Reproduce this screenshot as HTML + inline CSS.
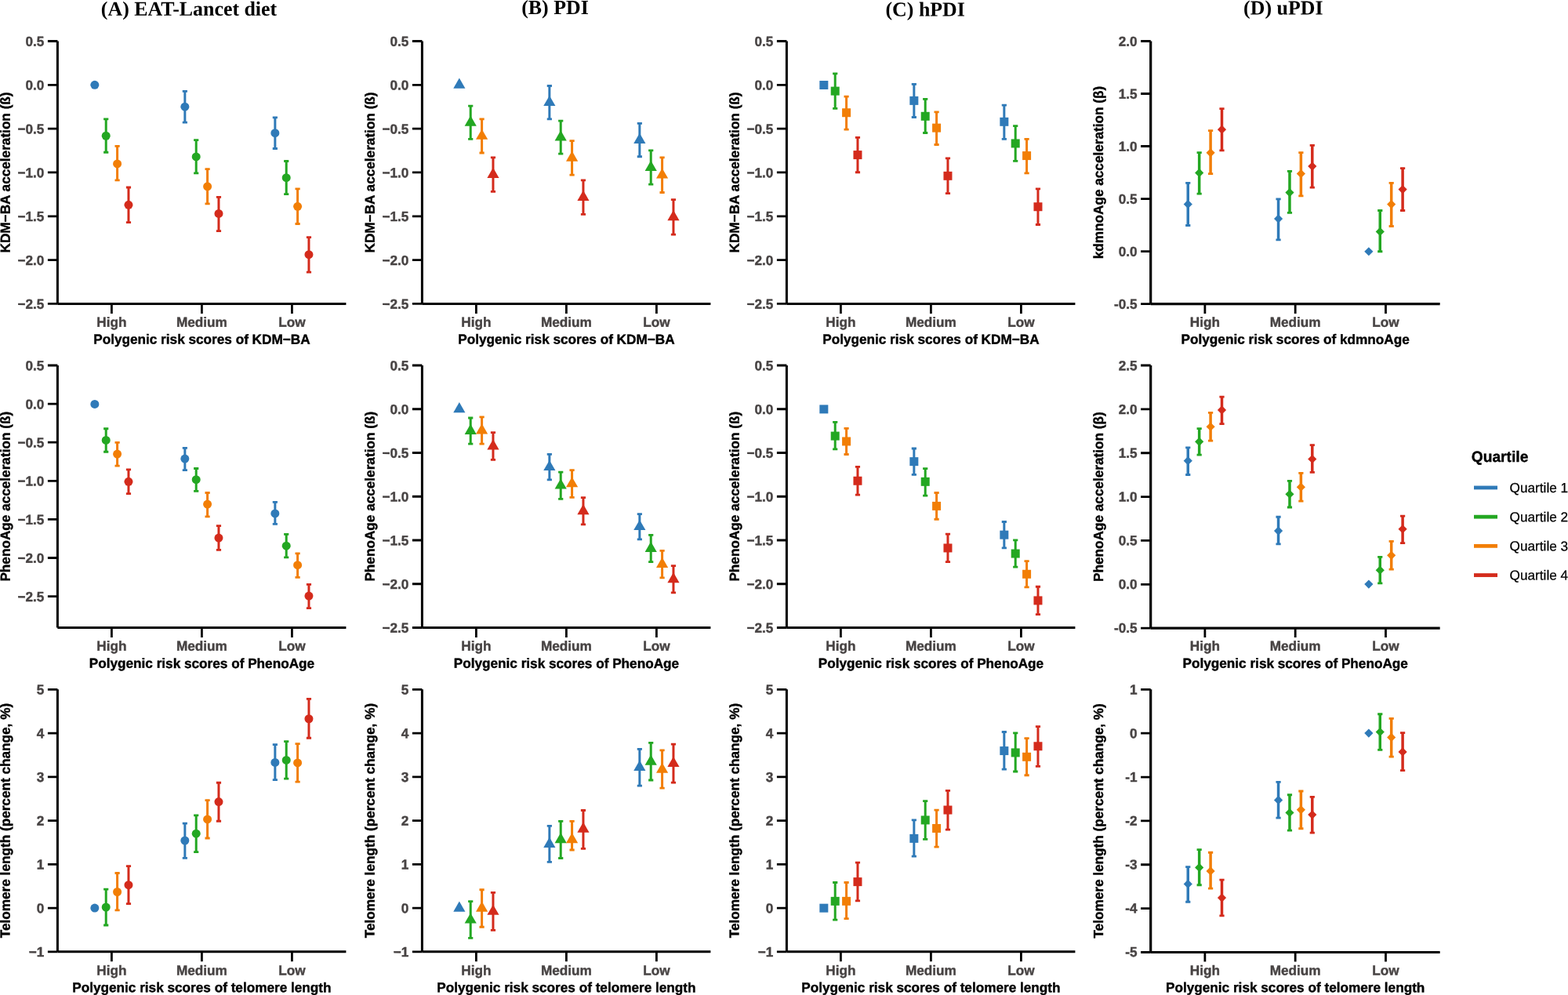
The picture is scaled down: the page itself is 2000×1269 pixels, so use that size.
<!DOCTYPE html>
<html lang="en"><head><meta charset="utf-8"><title>Diet quartiles, polygenic risk and biological ageing</title>
<style>
html,body{margin:0;padding:0;background:#fff}
body{width:2000px;height:1269px;overflow:hidden}
svg{display:block}
text{font-family:"Liberation Sans",Arial,Helvetica,sans-serif}
.tk{font-weight:bold;font-size:17.2px;fill:#474343;stroke:#474343;stroke-width:0.4}
.at{font-weight:bold;font-size:17.2px;fill:#000;stroke:#000;stroke-width:0.4}
.mt{font-family:"Liberation Serif","Times New Roman",serif;font-weight:bold;font-size:25.9px;fill:#000}
.lt{font-weight:bold;font-size:19.2px;fill:#000;stroke:#000;stroke-width:0.4}
.ll{font-size:17.2px;fill:#000;stroke:#000;stroke-width:0.25}
.ax{stroke:#000;fill:none}
</style></head><body>
<svg width="2000" height="1269" viewBox="0 0 2000 1269">
<rect width="2000" height="1269" fill="#fff"/>
<text class="mt" transform="translate(241 19.8) rotate(0.03)" text-anchor="middle">(A) EAT-Lancet diet</text>
<text class="mt" transform="translate(708 18) rotate(0.03)" text-anchor="middle">(B) PDI</text>
<text class="mt" transform="translate(1180.2 20.4) rotate(0.03)" text-anchor="middle">(C) hPDI</text>
<text class="mt" transform="translate(1636.8 18.5) rotate(0.03)" text-anchor="middle">(D) uPDI</text>
<g>
<path class="ax" stroke-width="3.0" d="M73.4 52.5V387.45M73.4 387.45H441.4"/>
<path class="ax" stroke-width="2.8" d="M60.9 52.5H73.4M60.9 108.32H73.4M60.9 164.15H73.4M60.9 219.97H73.4M60.9 275.8H73.4M60.9 331.62H73.4M60.9 387.45H73.4M142.4 387.45V399.95M257.4 387.45V399.95M372.4 387.45V399.95"/>
<text class="tk" transform="translate(56.3 58.8) rotate(0.03) scale(1 1.01)" text-anchor="end">0.5</text>
<text class="tk" transform="translate(56.3 114.62) rotate(0.03) scale(1 1.01)" text-anchor="end">0.0</text>
<text class="tk" transform="translate(56.3 170.45) rotate(0.03) scale(1 1.01)" text-anchor="end">−0.5</text>
<text class="tk" transform="translate(56.3 226.28) rotate(0.03) scale(1 1.01)" text-anchor="end">−1.0</text>
<text class="tk" transform="translate(56.3 282.1) rotate(0.03) scale(1 1.01)" text-anchor="end">−1.5</text>
<text class="tk" transform="translate(56.3 337.93) rotate(0.03) scale(1 1.01)" text-anchor="end">−2.0</text>
<text class="tk" transform="translate(56.3 393.75) rotate(0.03) scale(1 1.01)" text-anchor="end">−2.5</text>
<text class="tk" transform="translate(142.4 416.8) rotate(0.03) scale(1 1.01)" text-anchor="middle">High</text>
<text class="tk" transform="translate(257.4 416.8) rotate(0.03) scale(1 1.01)" text-anchor="middle">Medium</text>
<text class="tk" transform="translate(372.4 416.8) rotate(0.03) scale(1 1.01)" text-anchor="middle">Low</text>
<text class="at" transform="translate(257.4 438.6) rotate(0.03) scale(1 1.01)" text-anchor="middle">Polygenic risk scores of KDM−BA</text>
<text class="at" transform="translate(12.7 219.97) rotate(-89.97) scale(1 1.01)" text-anchor="middle">KDM−BA acceleration (ß)</text>
<circle cx="120.84" cy="108.3" r="5.5" fill="#2f7ab8"/>
<path stroke="#23a722" stroke-width="3.0" fill="none" d="M135.21 151.86V194.23"/>
<path stroke="#23a722" stroke-width="2.8" fill="none" d="M132.11 151.86H138.31M132.11 194.23H138.31"/>
<circle cx="135.21" cy="173.24" r="5.5" fill="#23a722"/>
<path stroke="#f27e05" stroke-width="3.0" fill="none" d="M149.59 186.31V229.87"/>
<path stroke="#f27e05" stroke-width="2.8" fill="none" d="M146.49 186.31H152.69M146.49 229.87H152.69"/>
<circle cx="149.59" cy="208.88" r="5.5" fill="#f27e05"/>
<path stroke="#d42b1c" stroke-width="3.0" fill="none" d="M163.96 238.98V283.53"/>
<path stroke="#d42b1c" stroke-width="2.8" fill="none" d="M160.86 238.98H167.06M160.86 283.53H167.06"/>
<circle cx="163.96" cy="261.35" r="5.5" fill="#d42b1c"/>
<path stroke="#2f7ab8" stroke-width="3.0" fill="none" d="M235.84 116.41V156.21"/>
<path stroke="#2f7ab8" stroke-width="2.8" fill="none" d="M232.74 116.41H238.94M232.74 156.21H238.94"/>
<circle cx="235.84" cy="136.21" r="5.5" fill="#2f7ab8"/>
<path stroke="#23a722" stroke-width="3.0" fill="none" d="M250.21 178.59V220.96"/>
<path stroke="#23a722" stroke-width="2.8" fill="none" d="M247.11 178.59H253.31M247.11 220.96H253.31"/>
<circle cx="250.21" cy="199.97" r="5.5" fill="#23a722"/>
<path stroke="#f27e05" stroke-width="3.0" fill="none" d="M264.59 215.61V259.96"/>
<path stroke="#f27e05" stroke-width="2.8" fill="none" d="M261.49 215.61H267.69M261.49 259.96H267.69"/>
<circle cx="264.59" cy="237.79" r="5.5" fill="#f27e05"/>
<path stroke="#d42b1c" stroke-width="3.0" fill="none" d="M278.96 251.45V294.61"/>
<path stroke="#d42b1c" stroke-width="2.8" fill="none" d="M275.86 251.45H282.06M275.86 294.61H282.06"/>
<circle cx="278.96" cy="272.44" r="5.5" fill="#d42b1c"/>
<path stroke="#2f7ab8" stroke-width="3.0" fill="none" d="M350.84 149.88V189.48"/>
<path stroke="#2f7ab8" stroke-width="2.8" fill="none" d="M347.74 149.88H353.94M347.74 189.48H353.94"/>
<circle cx="350.84" cy="169.68" r="5.5" fill="#2f7ab8"/>
<path stroke="#23a722" stroke-width="3.0" fill="none" d="M365.21 205.51V247.69"/>
<path stroke="#23a722" stroke-width="2.8" fill="none" d="M362.11 205.51H368.31M362.11 247.69H368.31"/>
<circle cx="365.21" cy="226.7" r="5.5" fill="#23a722"/>
<path stroke="#f27e05" stroke-width="3.0" fill="none" d="M379.59 240.96V285.51"/>
<path stroke="#f27e05" stroke-width="2.8" fill="none" d="M376.49 240.96H382.69M376.49 285.51H382.69"/>
<circle cx="379.59" cy="263.33" r="5.5" fill="#f27e05"/>
<path stroke="#d42b1c" stroke-width="3.0" fill="none" d="M393.96 302.53V347.08"/>
<path stroke="#d42b1c" stroke-width="2.8" fill="none" d="M390.86 302.53H397.06M390.86 347.08H397.06"/>
<circle cx="393.96" cy="324.71" r="5.5" fill="#d42b1c"/>
</g>
<g>
<path class="ax" stroke-width="3.0" d="M538.4 52.5V387.45M538.4 387.45H906.4"/>
<path class="ax" stroke-width="2.8" d="M525.9 52.5H538.4M525.9 108.32H538.4M525.9 164.15H538.4M525.9 219.97H538.4M525.9 275.8H538.4M525.9 331.62H538.4M525.9 387.45H538.4M607.4 387.45V399.95M722.4 387.45V399.95M837.4 387.45V399.95"/>
<text class="tk" transform="translate(521.3 58.8) rotate(0.03) scale(1 1.01)" text-anchor="end">0.5</text>
<text class="tk" transform="translate(521.3 114.62) rotate(0.03) scale(1 1.01)" text-anchor="end">0.0</text>
<text class="tk" transform="translate(521.3 170.45) rotate(0.03) scale(1 1.01)" text-anchor="end">−0.5</text>
<text class="tk" transform="translate(521.3 226.28) rotate(0.03) scale(1 1.01)" text-anchor="end">−1.0</text>
<text class="tk" transform="translate(521.3 282.1) rotate(0.03) scale(1 1.01)" text-anchor="end">−1.5</text>
<text class="tk" transform="translate(521.3 337.93) rotate(0.03) scale(1 1.01)" text-anchor="end">−2.0</text>
<text class="tk" transform="translate(521.3 393.75) rotate(0.03) scale(1 1.01)" text-anchor="end">−2.5</text>
<text class="tk" transform="translate(607.4 416.8) rotate(0.03) scale(1 1.01)" text-anchor="middle">High</text>
<text class="tk" transform="translate(722.4 416.8) rotate(0.03) scale(1 1.01)" text-anchor="middle">Medium</text>
<text class="tk" transform="translate(837.4 416.8) rotate(0.03) scale(1 1.01)" text-anchor="middle">Low</text>
<text class="at" transform="translate(722.4 438.6) rotate(0.03) scale(1 1.01)" text-anchor="middle">Polygenic risk scores of KDM−BA</text>
<text class="at" transform="translate(477.7 219.97) rotate(-89.97) scale(1 1.01)" text-anchor="middle">KDM−BA acceleration (ß)</text>
<path d="M578.24 112.68L593.44 112.68L585.84 99.52Z" fill="#2f7ab8"/>
<path stroke="#23a722" stroke-width="3.0" fill="none" d="M600.21 135.22V177.4"/>
<path stroke="#23a722" stroke-width="2.8" fill="none" d="M597.11 135.22H603.31M597.11 177.4H603.31"/>
<path d="M592.61 160.7L607.81 160.7L600.21 147.54Z" fill="#23a722"/>
<path stroke="#f27e05" stroke-width="3.0" fill="none" d="M614.59 151.86V195.02"/>
<path stroke="#f27e05" stroke-width="2.8" fill="none" d="M611.49 151.86H617.69M611.49 195.02H617.69"/>
<path d="M606.99 177.83L622.19 177.83L614.59 164.66Z" fill="#f27e05"/>
<path stroke="#d42b1c" stroke-width="3.0" fill="none" d="M628.96 200.96V244.32"/>
<path stroke="#d42b1c" stroke-width="2.8" fill="none" d="M625.86 200.96H632.06M625.86 244.32H632.06"/>
<path d="M621.36 227.03L636.56 227.03L628.96 213.87Z" fill="#d42b1c"/>
<path stroke="#2f7ab8" stroke-width="3.0" fill="none" d="M700.84 109.48V151.86"/>
<path stroke="#2f7ab8" stroke-width="2.8" fill="none" d="M697.74 109.48H703.94M697.74 151.86H703.94"/>
<path d="M693.24 135.06L708.44 135.06L700.84 121.89Z" fill="#2f7ab8"/>
<path stroke="#23a722" stroke-width="3.0" fill="none" d="M715.21 154.03V196.21"/>
<path stroke="#23a722" stroke-width="2.8" fill="none" d="M712.11 154.03H718.31M712.11 196.21H718.31"/>
<path d="M707.61 179.51L722.81 179.51L715.21 166.35Z" fill="#23a722"/>
<path stroke="#f27e05" stroke-width="3.0" fill="none" d="M729.59 179.58V223.14"/>
<path stroke="#f27e05" stroke-width="2.8" fill="none" d="M726.49 179.58H732.69M726.49 223.14H732.69"/>
<path d="M721.99 205.74L737.19 205.74L729.59 192.58Z" fill="#f27e05"/>
<path stroke="#d42b1c" stroke-width="3.0" fill="none" d="M743.96 229.87V273.43"/>
<path stroke="#d42b1c" stroke-width="2.8" fill="none" d="M740.86 229.87H747.06M740.86 273.43H747.06"/>
<path d="M736.36 256.04L751.56 256.04L743.96 242.87Z" fill="#d42b1c"/>
<path stroke="#2f7ab8" stroke-width="3.0" fill="none" d="M815.84 157.4V199.77"/>
<path stroke="#2f7ab8" stroke-width="2.8" fill="none" d="M812.74 157.4H818.94M812.74 199.77H818.94"/>
<path d="M808.24 182.97L823.44 182.97L815.84 169.81Z" fill="#2f7ab8"/>
<path stroke="#23a722" stroke-width="3.0" fill="none" d="M830.21 191.85V235.21"/>
<path stroke="#23a722" stroke-width="2.8" fill="none" d="M827.11 191.85H833.31M827.11 235.21H833.31"/>
<path d="M822.61 217.92L837.81 217.92L830.21 204.76Z" fill="#23a722"/>
<path stroke="#f27e05" stroke-width="3.0" fill="none" d="M844.59 200.96V245.51"/>
<path stroke="#f27e05" stroke-width="2.8" fill="none" d="M841.49 200.96H847.69M841.49 245.51H847.69"/>
<path d="M836.99 227.62L852.19 227.62L844.59 214.46Z" fill="#f27e05"/>
<path stroke="#d42b1c" stroke-width="3.0" fill="none" d="M858.96 254.62V299.17"/>
<path stroke="#d42b1c" stroke-width="2.8" fill="none" d="M855.86 254.62H862.06M855.86 299.17H862.06"/>
<path d="M851.36 281.28L866.56 281.28L858.96 268.12Z" fill="#d42b1c"/>
</g>
<g>
<path class="ax" stroke-width="3.0" d="M1003.4 52.5V387.45M1003.4 387.45H1371.4"/>
<path class="ax" stroke-width="2.8" d="M990.9 52.5H1003.4M990.9 108.32H1003.4M990.9 164.15H1003.4M990.9 219.97H1003.4M990.9 275.8H1003.4M990.9 331.62H1003.4M990.9 387.45H1003.4M1072.4 387.45V399.95M1187.4 387.45V399.95M1302.4 387.45V399.95"/>
<text class="tk" transform="translate(986.3 58.8) rotate(0.03) scale(1 1.01)" text-anchor="end">0.5</text>
<text class="tk" transform="translate(986.3 114.62) rotate(0.03) scale(1 1.01)" text-anchor="end">0.0</text>
<text class="tk" transform="translate(986.3 170.45) rotate(0.03) scale(1 1.01)" text-anchor="end">−0.5</text>
<text class="tk" transform="translate(986.3 226.28) rotate(0.03) scale(1 1.01)" text-anchor="end">−1.0</text>
<text class="tk" transform="translate(986.3 282.1) rotate(0.03) scale(1 1.01)" text-anchor="end">−1.5</text>
<text class="tk" transform="translate(986.3 337.93) rotate(0.03) scale(1 1.01)" text-anchor="end">−2.0</text>
<text class="tk" transform="translate(986.3 393.75) rotate(0.03) scale(1 1.01)" text-anchor="end">−2.5</text>
<text class="tk" transform="translate(1072.4 416.8) rotate(0.03) scale(1 1.01)" text-anchor="middle">High</text>
<text class="tk" transform="translate(1187.4 416.8) rotate(0.03) scale(1 1.01)" text-anchor="middle">Medium</text>
<text class="tk" transform="translate(1302.4 416.8) rotate(0.03) scale(1 1.01)" text-anchor="middle">Low</text>
<text class="at" transform="translate(1187.4 438.6) rotate(0.03) scale(1 1.01)" text-anchor="middle">Polygenic risk scores of KDM−BA</text>
<text class="at" transform="translate(942.7 219.97) rotate(-89.97) scale(1 1.01)" text-anchor="middle">KDM−BA acceleration (ß)</text>
<rect x="1045.34" y="102.99" width="11" height="11" fill="#2f7ab8"/>
<path stroke="#23a722" stroke-width="3.0" fill="none" d="M1065.21 93.84V138.39"/>
<path stroke="#23a722" stroke-width="2.8" fill="none" d="M1062.11 93.84H1068.31M1062.11 138.39H1068.31"/>
<rect x="1059.71" y="110.62" width="11" height="11" fill="#23a722"/>
<path stroke="#f27e05" stroke-width="3.0" fill="none" d="M1079.59 123.14V165.12"/>
<path stroke="#f27e05" stroke-width="2.8" fill="none" d="M1076.49 123.14H1082.69M1076.49 165.12H1082.69"/>
<rect x="1074.09" y="138.23" width="11" height="11" fill="#f27e05"/>
<path stroke="#d42b1c" stroke-width="3.0" fill="none" d="M1093.96 175.42V219.77"/>
<path stroke="#d42b1c" stroke-width="2.8" fill="none" d="M1090.86 175.42H1097.06M1090.86 219.77H1097.06"/>
<rect x="1088.46" y="192.09" width="11" height="11" fill="#d42b1c"/>
<path stroke="#2f7ab8" stroke-width="3.0" fill="none" d="M1165.84 107.3V149.48"/>
<path stroke="#2f7ab8" stroke-width="2.8" fill="none" d="M1162.74 107.3H1168.94M1162.74 149.48H1168.94"/>
<rect x="1160.34" y="122.89" width="11" height="11" fill="#2f7ab8"/>
<path stroke="#23a722" stroke-width="3.0" fill="none" d="M1180.21 126.31V169.48"/>
<path stroke="#23a722" stroke-width="2.8" fill="none" d="M1177.11 126.31H1183.31M1177.11 169.48H1183.31"/>
<rect x="1174.71" y="142.79" width="11" height="11" fill="#23a722"/>
<path stroke="#f27e05" stroke-width="3.0" fill="none" d="M1194.59 142.94V184.52"/>
<path stroke="#f27e05" stroke-width="2.8" fill="none" d="M1191.49 142.94H1197.69M1191.49 184.52H1197.69"/>
<rect x="1189.09" y="157.63" width="11" height="11" fill="#f27e05"/>
<path stroke="#d42b1c" stroke-width="3.0" fill="none" d="M1208.96 201.95V246.7"/>
<path stroke="#d42b1c" stroke-width="2.8" fill="none" d="M1205.86 201.95H1212.06M1205.86 246.7H1212.06"/>
<rect x="1203.46" y="218.82" width="11" height="11" fill="#d42b1c"/>
<path stroke="#2f7ab8" stroke-width="3.0" fill="none" d="M1280.84 134.03V177.4"/>
<path stroke="#2f7ab8" stroke-width="2.8" fill="none" d="M1277.74 134.03H1283.94M1277.74 177.4H1283.94"/>
<rect x="1275.34" y="149.81" width="11" height="11" fill="#2f7ab8"/>
<path stroke="#23a722" stroke-width="3.0" fill="none" d="M1295.21 160.57V205.31"/>
<path stroke="#23a722" stroke-width="2.8" fill="none" d="M1292.11 160.57H1298.31M1292.11 205.31H1298.31"/>
<rect x="1289.71" y="177.44" width="11" height="11" fill="#23a722"/>
<path stroke="#f27e05" stroke-width="3.0" fill="none" d="M1309.59 177.4V220.96"/>
<path stroke="#f27e05" stroke-width="2.8" fill="none" d="M1306.49 177.4H1312.69M1306.49 220.96H1312.69"/>
<rect x="1304.09" y="193.08" width="11" height="11" fill="#f27e05"/>
<path stroke="#d42b1c" stroke-width="3.0" fill="none" d="M1323.96 240.95V286.49"/>
<path stroke="#d42b1c" stroke-width="2.8" fill="none" d="M1320.86 240.95H1327.06M1320.86 286.49H1327.06"/>
<rect x="1318.46" y="258.22" width="11" height="11" fill="#d42b1c"/>
</g>
<g>
<path class="ax" stroke-width="3.2" d="M1467.7 52.5V387.55M1467.7 387.55H1836.66"/>
<path class="ax" stroke-width="2.8" d="M1455.1 52.5H1467.7M1455.1 119.51H1467.7M1455.1 186.52H1467.7M1455.1 253.53H1467.7M1455.1 320.54H1467.7M1455.1 387.55H1467.7M1536.88 387.55V400.05M1652.18 387.55V400.05M1767.48 387.55V400.05"/>
<text class="tk" transform="translate(1450.6 58.8) rotate(0.03) scale(1 1.01)" text-anchor="end">2.0</text>
<text class="tk" transform="translate(1450.6 125.79) rotate(0.03) scale(1 1.01)" text-anchor="end">1.5</text>
<text class="tk" transform="translate(1450.6 192.78) rotate(0.03) scale(1 1.01)" text-anchor="end">1.0</text>
<text class="tk" transform="translate(1450.6 259.77) rotate(0.03) scale(1 1.01)" text-anchor="end">0.5</text>
<text class="tk" transform="translate(1450.6 326.76) rotate(0.03) scale(1 1.01)" text-anchor="end">0.0</text>
<text class="tk" transform="translate(1450.6 393.75) rotate(0.03) scale(1 1.01)" text-anchor="end">-0.5</text>
<text class="tk" transform="translate(1536.88 416.8) rotate(0.03) scale(1 1.01)" text-anchor="middle">High</text>
<text class="tk" transform="translate(1652.18 416.8) rotate(0.03) scale(1 1.01)" text-anchor="middle">Medium</text>
<text class="tk" transform="translate(1767.48 416.8) rotate(0.03) scale(1 1.01)" text-anchor="middle">Low</text>
<text class="at" transform="translate(1652.18 438.6) rotate(0.03) scale(1 1.01)" text-anchor="middle">Polygenic risk scores of kdmnoAge</text>
<text class="at" transform="translate(1407 220.03) rotate(-89.97) scale(1 1.01)" text-anchor="middle">kdmnoAge acceleration (β)</text>
<path stroke="#2f7ab8" stroke-width="3.5" fill="none" d="M1515.26 233.45V287.51"/>
<path stroke="#2f7ab8" stroke-width="2.8" fill="none" d="M1512.16 233.45H1518.36M1512.16 287.51H1518.36"/>
<path d="M1509.66 260.38L1515.26 254.78L1520.86 260.38L1515.26 265.98Z" fill="#2f7ab8"/>
<path stroke="#23a722" stroke-width="3.5" fill="none" d="M1529.67 194.65V247.12"/>
<path stroke="#23a722" stroke-width="2.8" fill="none" d="M1526.57 194.65H1532.77M1526.57 247.12H1532.77"/>
<path d="M1524.07 220.39L1529.67 214.79L1535.27 220.39L1529.67 225.99Z" fill="#23a722"/>
<path stroke="#f27e05" stroke-width="3.5" fill="none" d="M1544.09 166.53V221.57"/>
<path stroke="#f27e05" stroke-width="2.8" fill="none" d="M1540.99 166.53H1547.19M1540.99 221.57H1547.19"/>
<path d="M1538.49 194.84L1544.09 189.24L1549.69 194.84L1544.09 200.44Z" fill="#f27e05"/>
<path stroke="#d42b1c" stroke-width="3.5" fill="none" d="M1558.5 138.61V191.87"/>
<path stroke="#d42b1c" stroke-width="2.8" fill="none" d="M1555.4 138.61H1561.6M1555.4 191.87H1561.6"/>
<path d="M1552.9 165.14L1558.5 159.54L1564.1 165.14L1558.5 170.74Z" fill="#d42b1c"/>
<path stroke="#2f7ab8" stroke-width="3.5" fill="none" d="M1630.56 253.85V305.92"/>
<path stroke="#2f7ab8" stroke-width="2.8" fill="none" d="M1627.46 253.85H1633.66M1627.46 305.92H1633.66"/>
<path d="M1624.96 278.99L1630.56 273.39L1636.16 278.99L1630.56 284.59Z" fill="#2f7ab8"/>
<path stroke="#23a722" stroke-width="3.5" fill="none" d="M1644.97 218.41V271.47"/>
<path stroke="#23a722" stroke-width="2.8" fill="none" d="M1641.87 218.41H1648.07M1641.87 271.47H1648.07"/>
<path d="M1639.37 245.53L1644.97 239.93L1650.57 245.53L1644.97 251.13Z" fill="#23a722"/>
<path stroke="#f27e05" stroke-width="3.5" fill="none" d="M1659.39 194.65V249.89"/>
<path stroke="#f27e05" stroke-width="2.8" fill="none" d="M1656.29 194.65H1662.49M1656.29 249.89H1662.49"/>
<path d="M1653.79 221.57L1659.39 215.97L1664.99 221.57L1659.39 227.17Z" fill="#f27e05"/>
<path stroke="#d42b1c" stroke-width="3.5" fill="none" d="M1673.8 185.34V239.2"/>
<path stroke="#d42b1c" stroke-width="2.8" fill="none" d="M1670.7 185.34H1676.9M1670.7 239.2H1676.9"/>
<path d="M1668.2 212.07L1673.8 206.47L1679.4 212.07L1673.8 217.67Z" fill="#d42b1c"/>
<path d="M1740.26 320.77L1745.86 315.17L1751.46 320.77L1745.86 326.37Z" fill="#2f7ab8"/>
<path stroke="#23a722" stroke-width="3.5" fill="none" d="M1760.27 268.5V320.77"/>
<path stroke="#23a722" stroke-width="2.8" fill="none" d="M1757.17 268.5H1763.37M1757.17 320.77H1763.37"/>
<path d="M1754.67 295.43L1760.27 289.83L1765.87 295.43L1760.27 301.03Z" fill="#23a722"/>
<path stroke="#f27e05" stroke-width="3.5" fill="none" d="M1774.69 233.45V288.5"/>
<path stroke="#f27e05" stroke-width="2.8" fill="none" d="M1771.59 233.45H1777.79M1771.59 288.5H1777.79"/>
<path d="M1769.09 260.58L1774.69 254.98L1780.29 260.58L1774.69 266.18Z" fill="#f27e05"/>
<path stroke="#d42b1c" stroke-width="3.5" fill="none" d="M1789.1 214.64V268.5"/>
<path stroke="#d42b1c" stroke-width="2.8" fill="none" d="M1786 214.64H1792.2M1786 268.5H1792.2"/>
<path d="M1783.5 241.57L1789.1 235.97L1794.7 241.57L1789.1 247.17Z" fill="#d42b1c"/>
</g>
<g>
<path class="ax" stroke-width="3.0" d="M73.4 466V800.5M73.4 800.5H441.4"/>
<path class="ax" stroke-width="2.8" d="M60.9 466H73.4M60.9 515.1H73.4M60.9 564.2H73.4M60.9 613.3H73.4M60.9 662.4H73.4M60.9 711.5H73.4M60.9 760.6H73.4M142.4 800.5V813M257.4 800.5V813M372.4 800.5V813"/>
<text class="tk" transform="translate(56.3 472.3) rotate(0.03) scale(1 1.01)" text-anchor="end">0.5</text>
<text class="tk" transform="translate(56.3 521.4) rotate(0.03) scale(1 1.01)" text-anchor="end">0.0</text>
<text class="tk" transform="translate(56.3 570.5) rotate(0.03) scale(1 1.01)" text-anchor="end">−0.5</text>
<text class="tk" transform="translate(56.3 619.6) rotate(0.03) scale(1 1.01)" text-anchor="end">−1.0</text>
<text class="tk" transform="translate(56.3 668.7) rotate(0.03) scale(1 1.01)" text-anchor="end">−1.5</text>
<text class="tk" transform="translate(56.3 717.8) rotate(0.03) scale(1 1.01)" text-anchor="end">−2.0</text>
<text class="tk" transform="translate(56.3 766.9) rotate(0.03) scale(1 1.01)" text-anchor="end">−2.5</text>
<text class="tk" transform="translate(142.4 829.75) rotate(0.03) scale(1 1.01)" text-anchor="middle">High</text>
<text class="tk" transform="translate(257.4 829.75) rotate(0.03) scale(1 1.01)" text-anchor="middle">Medium</text>
<text class="tk" transform="translate(372.4 829.75) rotate(0.03) scale(1 1.01)" text-anchor="middle">Low</text>
<text class="at" transform="translate(257.4 851.9) rotate(0.03) scale(1 1.01)" text-anchor="middle">Polygenic risk scores of PhenoAge</text>
<text class="at" transform="translate(12.7 633.25) rotate(-89.97) scale(1 1.01)" text-anchor="middle">PhenoAge acceleration (ß)</text>
<circle cx="120.84" cy="515.38" r="5.5" fill="#2f7ab8"/>
<path stroke="#23a722" stroke-width="3.0" fill="none" d="M135.21 546.77V576.23"/>
<path stroke="#23a722" stroke-width="2.8" fill="none" d="M132.11 546.77H138.31M132.11 576.23H138.31"/>
<circle cx="135.21" cy="561.39" r="5.5" fill="#23a722"/>
<path stroke="#f27e05" stroke-width="3.0" fill="none" d="M149.59 564.4V594.08"/>
<path stroke="#f27e05" stroke-width="2.8" fill="none" d="M146.49 564.4H152.69M146.49 594.08H152.69"/>
<circle cx="149.59" cy="579.02" r="5.5" fill="#f27e05"/>
<path stroke="#d42b1c" stroke-width="3.0" fill="none" d="M163.96 598.8V629.55"/>
<path stroke="#d42b1c" stroke-width="2.8" fill="none" d="M160.86 598.8H167.06M160.86 629.55H167.06"/>
<circle cx="163.96" cy="614.28" r="5.5" fill="#d42b1c"/>
<path stroke="#2f7ab8" stroke-width="3.0" fill="none" d="M235.84 571.28V599.66"/>
<path stroke="#2f7ab8" stroke-width="2.8" fill="none" d="M232.74 571.28H238.94M232.74 599.66H238.94"/>
<circle cx="235.84" cy="585.04" r="5.5" fill="#2f7ab8"/>
<path stroke="#23a722" stroke-width="3.0" fill="none" d="M250.21 597.51V626.33"/>
<path stroke="#23a722" stroke-width="2.8" fill="none" d="M247.11 597.51H253.31M247.11 626.33H253.31"/>
<circle cx="250.21" cy="611.71" r="5.5" fill="#23a722"/>
<path stroke="#f27e05" stroke-width="3.0" fill="none" d="M264.59 628.48V658.79"/>
<path stroke="#f27e05" stroke-width="2.8" fill="none" d="M261.49 628.48H267.69M261.49 658.79H267.69"/>
<circle cx="264.59" cy="643.1" r="5.5" fill="#f27e05"/>
<path stroke="#d42b1c" stroke-width="3.0" fill="none" d="M278.96 670.62V701.36"/>
<path stroke="#d42b1c" stroke-width="2.8" fill="none" d="M275.86 670.62H282.06M275.86 701.36H282.06"/>
<circle cx="278.96" cy="686.1" r="5.5" fill="#d42b1c"/>
<path stroke="#2f7ab8" stroke-width="3.0" fill="none" d="M350.84 640.3V668.47"/>
<path stroke="#2f7ab8" stroke-width="2.8" fill="none" d="M347.74 640.3H353.94M347.74 668.47H353.94"/>
<circle cx="350.84" cy="654.92" r="5.5" fill="#2f7ab8"/>
<path stroke="#23a722" stroke-width="3.0" fill="none" d="M365.21 681.37V710.82"/>
<path stroke="#23a722" stroke-width="2.8" fill="none" d="M362.11 681.37H368.31M362.11 710.82H368.31"/>
<circle cx="365.21" cy="696.2" r="5.5" fill="#23a722"/>
<path stroke="#f27e05" stroke-width="3.0" fill="none" d="M379.59 705.88V736.4"/>
<path stroke="#f27e05" stroke-width="2.8" fill="none" d="M376.49 705.88H382.69M376.49 736.4H382.69"/>
<circle cx="379.59" cy="720.71" r="5.5" fill="#f27e05"/>
<path stroke="#d42b1c" stroke-width="3.0" fill="none" d="M393.96 745.43V775.53"/>
<path stroke="#d42b1c" stroke-width="2.8" fill="none" d="M390.86 745.43H397.06M390.86 775.53H397.06"/>
<circle cx="393.96" cy="760.05" r="5.5" fill="#d42b1c"/>
</g>
<g>
<path class="ax" stroke-width="3.0" d="M538.4 466V800.5M538.4 800.5H906.4"/>
<path class="ax" stroke-width="2.8" d="M525.9 466H538.4M525.9 521.75H538.4M525.9 577.5H538.4M525.9 633.25H538.4M525.9 689H538.4M525.9 744.75H538.4M525.9 800.5H538.4M607.4 800.5V813M722.4 800.5V813M837.4 800.5V813"/>
<text class="tk" transform="translate(521.3 472.3) rotate(0.03) scale(1 1.01)" text-anchor="end">0.5</text>
<text class="tk" transform="translate(521.3 528.05) rotate(0.03) scale(1 1.01)" text-anchor="end">0.0</text>
<text class="tk" transform="translate(521.3 583.8) rotate(0.03) scale(1 1.01)" text-anchor="end">−0.5</text>
<text class="tk" transform="translate(521.3 639.55) rotate(0.03) scale(1 1.01)" text-anchor="end">−1.0</text>
<text class="tk" transform="translate(521.3 695.3) rotate(0.03) scale(1 1.01)" text-anchor="end">−1.5</text>
<text class="tk" transform="translate(521.3 751.05) rotate(0.03) scale(1 1.01)" text-anchor="end">−2.0</text>
<text class="tk" transform="translate(521.3 806.8) rotate(0.03) scale(1 1.01)" text-anchor="end">−2.5</text>
<text class="tk" transform="translate(607.4 829.75) rotate(0.03) scale(1 1.01)" text-anchor="middle">High</text>
<text class="tk" transform="translate(722.4 829.75) rotate(0.03) scale(1 1.01)" text-anchor="middle">Medium</text>
<text class="tk" transform="translate(837.4 829.75) rotate(0.03) scale(1 1.01)" text-anchor="middle">Low</text>
<text class="at" transform="translate(722.4 851.9) rotate(0.03) scale(1 1.01)" text-anchor="middle">Polygenic risk scores of PhenoAge</text>
<text class="at" transform="translate(477.7 633.25) rotate(-89.97) scale(1 1.01)" text-anchor="middle">PhenoAge acceleration (ß)</text>
<path d="M578.24 526.22L593.44 526.22L585.84 513.06Z" fill="#2f7ab8"/>
<path stroke="#23a722" stroke-width="3.0" fill="none" d="M600.21 533.01V566.12"/>
<path stroke="#23a722" stroke-width="2.8" fill="none" d="M597.11 533.01H603.31M597.11 566.12H603.31"/>
<path d="M592.61 553.96L607.81 553.96L600.21 540.79Z" fill="#23a722"/>
<path stroke="#f27e05" stroke-width="3.0" fill="none" d="M614.59 531.94V566.12"/>
<path stroke="#f27e05" stroke-width="2.8" fill="none" d="M611.49 531.94H617.69M611.49 566.12H617.69"/>
<path d="M606.99 553.42L622.19 553.42L614.59 540.26Z" fill="#f27e05"/>
<path stroke="#d42b1c" stroke-width="3.0" fill="none" d="M628.96 551.72V586.34"/>
<path stroke="#d42b1c" stroke-width="2.8" fill="none" d="M625.86 551.72H632.06M625.86 586.34H632.06"/>
<path d="M621.36 573.42L636.56 573.42L628.96 560.25Z" fill="#d42b1c"/>
<path stroke="#2f7ab8" stroke-width="3.0" fill="none" d="M700.84 579.46V611.92"/>
<path stroke="#2f7ab8" stroke-width="2.8" fill="none" d="M697.74 579.46H703.94M697.74 611.92H703.94"/>
<path d="M693.24 600.08L708.44 600.08L700.84 586.91Z" fill="#2f7ab8"/>
<path stroke="#23a722" stroke-width="3.0" fill="none" d="M715.21 602.03V636.43"/>
<path stroke="#23a722" stroke-width="2.8" fill="none" d="M712.11 602.03H718.31M712.11 636.43H718.31"/>
<path d="M707.61 623.62L722.81 623.62L715.21 610.45Z" fill="#23a722"/>
<path stroke="#f27e05" stroke-width="3.0" fill="none" d="M729.59 599.66V634.28"/>
<path stroke="#f27e05" stroke-width="2.8" fill="none" d="M726.49 599.66H732.69M726.49 634.28H732.69"/>
<path d="M721.99 621.36L737.19 621.36L729.59 608.2Z" fill="#f27e05"/>
<path stroke="#d42b1c" stroke-width="3.0" fill="none" d="M743.96 634.71V668.89"/>
<path stroke="#d42b1c" stroke-width="2.8" fill="none" d="M740.86 634.71H747.06M740.86 668.89H747.06"/>
<path d="M736.36 656.19L751.56 656.19L743.96 643.03Z" fill="#d42b1c"/>
<path stroke="#2f7ab8" stroke-width="3.0" fill="none" d="M815.84 655.57V687.82"/>
<path stroke="#2f7ab8" stroke-width="2.8" fill="none" d="M812.74 655.57H818.94M812.74 687.82H818.94"/>
<path d="M808.24 676.08L823.44 676.08L815.84 662.91Z" fill="#2f7ab8"/>
<path stroke="#23a722" stroke-width="3.0" fill="none" d="M830.21 682.44V716.62"/>
<path stroke="#23a722" stroke-width="2.8" fill="none" d="M827.11 682.44H833.31M827.11 716.62H833.31"/>
<path d="M822.61 703.92L837.81 703.92L830.21 690.76Z" fill="#23a722"/>
<path stroke="#f27e05" stroke-width="3.0" fill="none" d="M844.59 702.43V736.84"/>
<path stroke="#f27e05" stroke-width="2.8" fill="none" d="M841.49 702.43H847.69M841.49 736.84H847.69"/>
<path d="M836.99 724.02L852.19 724.02L844.59 710.86Z" fill="#f27e05"/>
<path stroke="#d42b1c" stroke-width="3.0" fill="none" d="M858.96 721.57V755.97"/>
<path stroke="#d42b1c" stroke-width="2.8" fill="none" d="M855.86 721.57H862.06M855.86 755.97H862.06"/>
<path d="M851.36 743.16L866.56 743.16L858.96 729.99Z" fill="#d42b1c"/>
</g>
<g>
<path class="ax" stroke-width="3.0" d="M1003.4 466V800.5M1003.4 800.5H1371.4"/>
<path class="ax" stroke-width="2.8" d="M990.9 466H1003.4M990.9 521.75H1003.4M990.9 577.5H1003.4M990.9 633.25H1003.4M990.9 689H1003.4M990.9 744.75H1003.4M990.9 800.5H1003.4M1072.4 800.5V813M1187.4 800.5V813M1302.4 800.5V813"/>
<text class="tk" transform="translate(986.3 472.3) rotate(0.03) scale(1 1.01)" text-anchor="end">0.5</text>
<text class="tk" transform="translate(986.3 528.05) rotate(0.03) scale(1 1.01)" text-anchor="end">0.0</text>
<text class="tk" transform="translate(986.3 583.8) rotate(0.03) scale(1 1.01)" text-anchor="end">−0.5</text>
<text class="tk" transform="translate(986.3 639.55) rotate(0.03) scale(1 1.01)" text-anchor="end">−1.0</text>
<text class="tk" transform="translate(986.3 695.3) rotate(0.03) scale(1 1.01)" text-anchor="end">−1.5</text>
<text class="tk" transform="translate(986.3 751.05) rotate(0.03) scale(1 1.01)" text-anchor="end">−2.0</text>
<text class="tk" transform="translate(986.3 806.8) rotate(0.03) scale(1 1.01)" text-anchor="end">−2.5</text>
<text class="tk" transform="translate(1072.4 829.75) rotate(0.03) scale(1 1.01)" text-anchor="middle">High</text>
<text class="tk" transform="translate(1187.4 829.75) rotate(0.03) scale(1 1.01)" text-anchor="middle">Medium</text>
<text class="tk" transform="translate(1302.4 829.75) rotate(0.03) scale(1 1.01)" text-anchor="middle">Low</text>
<text class="at" transform="translate(1187.4 851.9) rotate(0.03) scale(1 1.01)" text-anchor="middle">Polygenic risk scores of PhenoAge</text>
<text class="at" transform="translate(942.7 633.25) rotate(-89.97) scale(1 1.01)" text-anchor="middle">PhenoAge acceleration (ß)</text>
<rect x="1045.34" y="516.38" width="11" height="11" fill="#2f7ab8"/>
<path stroke="#23a722" stroke-width="3.0" fill="none" d="M1065.21 538.43V572.84"/>
<path stroke="#23a722" stroke-width="2.8" fill="none" d="M1062.11 538.43H1068.31M1062.11 572.84H1068.31"/>
<rect x="1059.71" y="550.57" width="11" height="11" fill="#23a722"/>
<path stroke="#f27e05" stroke-width="3.0" fill="none" d="M1079.59 546.39V579.5"/>
<path stroke="#f27e05" stroke-width="2.8" fill="none" d="M1076.49 546.39H1082.69M1076.49 579.5H1082.69"/>
<rect x="1074.09" y="557.45" width="11" height="11" fill="#f27e05"/>
<path stroke="#d42b1c" stroke-width="3.0" fill="none" d="M1093.96 595.41V631.1"/>
<path stroke="#d42b1c" stroke-width="2.8" fill="none" d="M1090.86 595.41H1097.06M1090.86 631.1H1097.06"/>
<rect x="1088.46" y="607.75" width="11" height="11" fill="#d42b1c"/>
<path stroke="#2f7ab8" stroke-width="3.0" fill="none" d="M1165.84 571.98V605.3"/>
<path stroke="#2f7ab8" stroke-width="2.8" fill="none" d="M1162.74 571.98H1168.94M1162.74 605.3H1168.94"/>
<rect x="1160.34" y="583.14" width="11" height="11" fill="#2f7ab8"/>
<path stroke="#23a722" stroke-width="3.0" fill="none" d="M1180.21 597.56V632.17"/>
<path stroke="#23a722" stroke-width="2.8" fill="none" d="M1177.11 597.56H1183.31M1177.11 632.17H1183.31"/>
<rect x="1174.71" y="608.83" width="11" height="11" fill="#23a722"/>
<path stroke="#f27e05" stroke-width="3.0" fill="none" d="M1194.59 628.52V662.27"/>
<path stroke="#f27e05" stroke-width="2.8" fill="none" d="M1191.49 628.52H1197.69M1191.49 662.27H1197.69"/>
<rect x="1189.09" y="639.9" width="11" height="11" fill="#f27e05"/>
<path stroke="#d42b1c" stroke-width="3.0" fill="none" d="M1208.96 681.19V716.67"/>
<path stroke="#d42b1c" stroke-width="2.8" fill="none" d="M1205.86 681.19H1212.06M1205.86 716.67H1212.06"/>
<rect x="1203.46" y="693.43" width="11" height="11" fill="#d42b1c"/>
<path stroke="#2f7ab8" stroke-width="3.0" fill="none" d="M1280.84 665.5V698.83"/>
<path stroke="#2f7ab8" stroke-width="2.8" fill="none" d="M1277.74 665.5H1283.94M1277.74 698.83H1283.94"/>
<rect x="1275.34" y="676.66" width="11" height="11" fill="#2f7ab8"/>
<path stroke="#23a722" stroke-width="3.0" fill="none" d="M1295.21 688.93V723.12"/>
<path stroke="#23a722" stroke-width="2.8" fill="none" d="M1292.11 688.93H1298.31M1292.11 723.12H1298.31"/>
<rect x="1289.71" y="700.53" width="11" height="11" fill="#23a722"/>
<path stroke="#f27e05" stroke-width="3.0" fill="none" d="M1309.59 715.6V748.92"/>
<path stroke="#f27e05" stroke-width="2.8" fill="none" d="M1306.49 715.6H1312.69M1306.49 748.92H1312.69"/>
<rect x="1304.09" y="726.76" width="11" height="11" fill="#f27e05"/>
<path stroke="#d42b1c" stroke-width="3.0" fill="none" d="M1323.96 748.27V783.53"/>
<path stroke="#d42b1c" stroke-width="2.8" fill="none" d="M1320.86 748.27H1327.06M1320.86 783.53H1327.06"/>
<rect x="1318.46" y="760.4" width="11" height="11" fill="#d42b1c"/>
</g>
<g>
<path class="ax" stroke-width="3.2" d="M1467.7 466V801.2M1467.7 801.2H1836.66"/>
<path class="ax" stroke-width="2.8" d="M1455.1 466H1467.7M1455.1 521.87H1467.7M1455.1 577.73H1467.7M1455.1 633.6H1467.7M1455.1 689.47H1467.7M1455.1 745.33H1467.7M1455.1 801.2H1467.7M1536.88 801.2V813.1M1652.18 801.2V813.1M1767.48 801.2V813.1"/>
<text class="tk" transform="translate(1450.6 472.3) rotate(0.03) scale(1 1.01)" text-anchor="end">2.5</text>
<text class="tk" transform="translate(1450.6 528.05) rotate(0.03) scale(1 1.01)" text-anchor="end">2.0</text>
<text class="tk" transform="translate(1450.6 583.8) rotate(0.03) scale(1 1.01)" text-anchor="end">1.5</text>
<text class="tk" transform="translate(1450.6 639.55) rotate(0.03) scale(1 1.01)" text-anchor="end">1.0</text>
<text class="tk" transform="translate(1450.6 695.3) rotate(0.03) scale(1 1.01)" text-anchor="end">0.5</text>
<text class="tk" transform="translate(1450.6 751.05) rotate(0.03) scale(1 1.01)" text-anchor="end">0.0</text>
<text class="tk" transform="translate(1450.6 806.8) rotate(0.03) scale(1 1.01)" text-anchor="end">-0.5</text>
<text class="tk" transform="translate(1536.88 829.75) rotate(0.03) scale(1 1.01)" text-anchor="middle">High</text>
<text class="tk" transform="translate(1652.18 829.75) rotate(0.03) scale(1 1.01)" text-anchor="middle">Medium</text>
<text class="tk" transform="translate(1767.48 829.75) rotate(0.03) scale(1 1.01)" text-anchor="middle">Low</text>
<text class="at" transform="translate(1652.18 851.9) rotate(0.03) scale(1 1.01)" text-anchor="middle">Polygenic risk scores of PhenoAge</text>
<text class="at" transform="translate(1407 633.6) rotate(-89.97) scale(1 1.01)" text-anchor="middle">PhenoAge acceleration (β)</text>
<path stroke="#2f7ab8" stroke-width="3.5" fill="none" d="M1515.26 570.89V605.51"/>
<path stroke="#2f7ab8" stroke-width="2.8" fill="none" d="M1512.16 570.89H1518.36M1512.16 605.51H1518.36"/>
<path d="M1509.66 587.66L1515.26 582.06L1520.86 587.66L1515.26 593.26Z" fill="#2f7ab8"/>
<path stroke="#23a722" stroke-width="3.5" fill="none" d="M1529.67 546.6V580.14"/>
<path stroke="#23a722" stroke-width="2.8" fill="none" d="M1526.57 546.6H1532.77M1526.57 580.14H1532.77"/>
<path d="M1524.07 563.37L1529.67 557.77L1535.27 563.37L1529.67 568.97Z" fill="#23a722"/>
<path stroke="#f27e05" stroke-width="3.5" fill="none" d="M1544.09 526.39V562.08"/>
<path stroke="#f27e05" stroke-width="2.8" fill="none" d="M1540.99 526.39H1547.19M1540.99 562.08H1547.19"/>
<path d="M1538.49 544.24L1544.09 538.63L1549.69 544.24L1544.09 549.84Z" fill="#f27e05"/>
<path stroke="#d42b1c" stroke-width="3.5" fill="none" d="M1558.5 506.18V540.58"/>
<path stroke="#d42b1c" stroke-width="2.8" fill="none" d="M1555.4 506.18H1561.6M1555.4 540.58H1561.6"/>
<path d="M1552.9 522.95L1558.5 517.35L1564.1 522.95L1558.5 528.55Z" fill="#d42b1c"/>
<path stroke="#2f7ab8" stroke-width="3.5" fill="none" d="M1630.56 659.26V693.88"/>
<path stroke="#2f7ab8" stroke-width="2.8" fill="none" d="M1627.46 659.26H1633.66M1627.46 693.88H1633.66"/>
<path d="M1624.96 677.11L1630.56 671.5L1636.16 677.11L1630.56 682.71Z" fill="#2f7ab8"/>
<path stroke="#23a722" stroke-width="3.5" fill="none" d="M1644.97 613.47V647"/>
<path stroke="#23a722" stroke-width="2.8" fill="none" d="M1641.87 613.47H1648.07M1641.87 647H1648.07"/>
<path d="M1639.37 630.24L1644.97 624.63L1650.57 630.24L1644.97 635.84Z" fill="#23a722"/>
<path stroke="#f27e05" stroke-width="3.5" fill="none" d="M1659.39 603.36V639.05"/>
<path stroke="#f27e05" stroke-width="2.8" fill="none" d="M1656.29 603.36H1662.49M1656.29 639.05H1662.49"/>
<path d="M1653.79 621.21L1659.39 615.61L1664.99 621.21L1659.39 626.81Z" fill="#f27e05"/>
<path stroke="#d42b1c" stroke-width="3.5" fill="none" d="M1673.8 567.67V602.28"/>
<path stroke="#d42b1c" stroke-width="2.8" fill="none" d="M1670.7 567.67H1676.9M1670.7 602.28H1676.9"/>
<path d="M1668.2 585.51L1673.8 579.91L1679.4 585.51L1673.8 591.12Z" fill="#d42b1c"/>
<path d="M1740.26 745.04L1745.86 739.44L1751.46 745.04L1745.86 750.64Z" fill="#2f7ab8"/>
<path stroke="#23a722" stroke-width="3.5" fill="none" d="M1760.27 710.43V743.97"/>
<path stroke="#23a722" stroke-width="2.8" fill="none" d="M1757.17 710.43H1763.37M1757.17 743.97H1763.37"/>
<path d="M1754.67 727.2L1760.27 721.6L1765.87 727.2L1760.27 732.8Z" fill="#23a722"/>
<path stroke="#f27e05" stroke-width="3.5" fill="none" d="M1774.69 690.43V726.12"/>
<path stroke="#f27e05" stroke-width="2.8" fill="none" d="M1771.59 690.43H1777.79M1771.59 726.12H1777.79"/>
<path d="M1769.09 708.28L1774.69 702.68L1780.29 708.28L1774.69 713.88Z" fill="#f27e05"/>
<path stroke="#d42b1c" stroke-width="3.5" fill="none" d="M1789.1 658.18V692.59"/>
<path stroke="#d42b1c" stroke-width="2.8" fill="none" d="M1786 658.18H1792.2M1786 692.59H1792.2"/>
<path d="M1783.5 674.74L1789.1 669.14L1794.7 674.74L1789.1 680.34Z" fill="#d42b1c"/>
</g>
<g>
<path class="ax" stroke-width="3.0" d="M73.4 879.3V1213.8M73.4 1213.8H441.4"/>
<path class="ax" stroke-width="2.8" d="M60.9 879.3H73.4M60.9 935.05H73.4M60.9 990.8H73.4M60.9 1046.55H73.4M60.9 1102.3H73.4M60.9 1158.05H73.4M60.9 1213.8H73.4M142.4 1213.8V1226.3M257.4 1213.8V1226.3M372.4 1213.8V1226.3"/>
<text class="tk" transform="translate(56.3 885.6) rotate(0.03) scale(1 1.01)" text-anchor="end">5</text>
<text class="tk" transform="translate(56.3 941.35) rotate(0.03) scale(1 1.01)" text-anchor="end">4</text>
<text class="tk" transform="translate(56.3 997.1) rotate(0.03) scale(1 1.01)" text-anchor="end">3</text>
<text class="tk" transform="translate(56.3 1052.85) rotate(0.03) scale(1 1.01)" text-anchor="end">2</text>
<text class="tk" transform="translate(56.3 1108.6) rotate(0.03) scale(1 1.01)" text-anchor="end">1</text>
<text class="tk" transform="translate(56.3 1164.35) rotate(0.03) scale(1 1.01)" text-anchor="end">0</text>
<text class="tk" transform="translate(56.3 1220.1) rotate(0.03) scale(1 1.01)" text-anchor="end">−1</text>
<text class="tk" transform="translate(142.4 1243.6) rotate(0.03) scale(1 1.01)" text-anchor="middle">High</text>
<text class="tk" transform="translate(257.4 1243.6) rotate(0.03) scale(1 1.01)" text-anchor="middle">Medium</text>
<text class="tk" transform="translate(372.4 1243.6) rotate(0.03) scale(1 1.01)" text-anchor="middle">Low</text>
<text class="at" transform="translate(257.4 1265.3) rotate(0.03) scale(1 1.01)" text-anchor="middle">Polygenic risk scores of telomere length</text>
<text class="at" transform="translate(12.7 1046.55) rotate(-89.97) scale(1 1.01)" text-anchor="middle">Telomere length (percent change, %)</text>
<circle cx="120.84" cy="1158.1" r="5.5" fill="#2f7ab8"/>
<path stroke="#23a722" stroke-width="3.0" fill="none" d="M135.21 1134.1V1180"/>
<path stroke="#23a722" stroke-width="2.8" fill="none" d="M132.11 1134.1H138.31M132.11 1180H138.31"/>
<circle cx="135.21" cy="1157" r="5.5" fill="#23a722"/>
<path stroke="#f27e05" stroke-width="3.0" fill="none" d="M149.59 1113.5V1160.9"/>
<path stroke="#f27e05" stroke-width="2.8" fill="none" d="M146.49 1113.5H152.69M146.49 1160.9H152.69"/>
<circle cx="149.59" cy="1137.5" r="5.5" fill="#f27e05"/>
<path stroke="#d42b1c" stroke-width="3.0" fill="none" d="M163.96 1104.7V1152.7"/>
<path stroke="#d42b1c" stroke-width="2.8" fill="none" d="M160.86 1104.7H167.06M160.86 1152.7H167.06"/>
<circle cx="163.96" cy="1128.7" r="5.5" fill="#d42b1c"/>
<path stroke="#2f7ab8" stroke-width="3.0" fill="none" d="M235.84 1050.07V1094.36"/>
<path stroke="#2f7ab8" stroke-width="2.8" fill="none" d="M232.74 1050.07H238.94M232.74 1094.36H238.94"/>
<circle cx="235.84" cy="1071.99" r="5.5" fill="#2f7ab8"/>
<path stroke="#23a722" stroke-width="3.0" fill="none" d="M250.21 1039.96V1086.62"/>
<path stroke="#23a722" stroke-width="2.8" fill="none" d="M247.11 1039.96H253.31M247.11 1086.62H253.31"/>
<circle cx="250.21" cy="1063.18" r="5.5" fill="#23a722"/>
<path stroke="#f27e05" stroke-width="3.0" fill="none" d="M264.59 1020.61V1068.98"/>
<path stroke="#f27e05" stroke-width="2.8" fill="none" d="M261.49 1020.61H267.69M261.49 1068.98H267.69"/>
<circle cx="264.59" cy="1044.9" r="5.5" fill="#f27e05"/>
<path stroke="#d42b1c" stroke-width="3.0" fill="none" d="M278.96 998.25V1047.27"/>
<path stroke="#d42b1c" stroke-width="2.8" fill="none" d="M275.86 998.25H282.06M275.86 1047.27H282.06"/>
<circle cx="278.96" cy="1022.54" r="5.5" fill="#d42b1c"/>
<path stroke="#2f7ab8" stroke-width="3.0" fill="none" d="M350.84 949.66V994.6"/>
<path stroke="#2f7ab8" stroke-width="2.8" fill="none" d="M347.74 949.66H353.94M347.74 994.6H353.94"/>
<circle cx="350.84" cy="972.45" r="5.5" fill="#2f7ab8"/>
<path stroke="#23a722" stroke-width="3.0" fill="none" d="M365.21 945.58V993.09"/>
<path stroke="#23a722" stroke-width="2.8" fill="none" d="M362.11 945.58H368.31M362.11 993.09H368.31"/>
<circle cx="365.21" cy="969.44" r="5.5" fill="#23a722"/>
<path stroke="#f27e05" stroke-width="3.0" fill="none" d="M379.59 948.59V997.17"/>
<path stroke="#f27e05" stroke-width="2.8" fill="none" d="M376.49 948.59H382.69M376.49 997.17H382.69"/>
<circle cx="379.59" cy="972.88" r="5.5" fill="#f27e05"/>
<path stroke="#d42b1c" stroke-width="3.0" fill="none" d="M393.96 891.39V941.27"/>
<path stroke="#d42b1c" stroke-width="2.8" fill="none" d="M390.86 891.39H397.06M390.86 941.27H397.06"/>
<circle cx="393.96" cy="916.76" r="5.5" fill="#d42b1c"/>
</g>
<g>
<path class="ax" stroke-width="3.0" d="M538.4 879.3V1213.8M538.4 1213.8H906.4"/>
<path class="ax" stroke-width="2.8" d="M525.9 879.3H538.4M525.9 935.05H538.4M525.9 990.8H538.4M525.9 1046.55H538.4M525.9 1102.3H538.4M525.9 1158.05H538.4M525.9 1213.8H538.4M607.4 1213.8V1226.3M722.4 1213.8V1226.3M837.4 1213.8V1226.3"/>
<text class="tk" transform="translate(521.3 885.6) rotate(0.03) scale(1 1.01)" text-anchor="end">5</text>
<text class="tk" transform="translate(521.3 941.35) rotate(0.03) scale(1 1.01)" text-anchor="end">4</text>
<text class="tk" transform="translate(521.3 997.1) rotate(0.03) scale(1 1.01)" text-anchor="end">3</text>
<text class="tk" transform="translate(521.3 1052.85) rotate(0.03) scale(1 1.01)" text-anchor="end">2</text>
<text class="tk" transform="translate(521.3 1108.6) rotate(0.03) scale(1 1.01)" text-anchor="end">1</text>
<text class="tk" transform="translate(521.3 1164.35) rotate(0.03) scale(1 1.01)" text-anchor="end">0</text>
<text class="tk" transform="translate(521.3 1220.1) rotate(0.03) scale(1 1.01)" text-anchor="end">−1</text>
<text class="tk" transform="translate(607.4 1243.6) rotate(0.03) scale(1 1.01)" text-anchor="middle">High</text>
<text class="tk" transform="translate(722.4 1243.6) rotate(0.03) scale(1 1.01)" text-anchor="middle">Medium</text>
<text class="tk" transform="translate(837.4 1243.6) rotate(0.03) scale(1 1.01)" text-anchor="middle">Low</text>
<text class="at" transform="translate(722.4 1265.3) rotate(0.03) scale(1 1.01)" text-anchor="middle">Polygenic risk scores of telomere length</text>
<text class="at" transform="translate(477.7 1046.55) rotate(-89.97) scale(1 1.01)" text-anchor="middle">Telomere length (percent change, %)</text>
<path d="M578.24 1162.71L593.44 1162.71L585.84 1149.55Z" fill="#2f7ab8"/>
<path stroke="#23a722" stroke-width="3.0" fill="none" d="M600.21 1149.57V1196.44"/>
<path stroke="#23a722" stroke-width="2.8" fill="none" d="M597.11 1149.57H603.31M597.11 1196.44H603.31"/>
<path d="M592.61 1177.61L607.81 1177.61L600.21 1164.44Z" fill="#23a722"/>
<path stroke="#f27e05" stroke-width="3.0" fill="none" d="M614.59 1134.73V1182.25"/>
<path stroke="#f27e05" stroke-width="2.8" fill="none" d="M611.49 1134.73H617.69M611.49 1182.25H617.69"/>
<path d="M606.99 1162.77L622.19 1162.77L614.59 1149.61Z" fill="#f27e05"/>
<path stroke="#d42b1c" stroke-width="3.0" fill="none" d="M628.96 1138.39V1186.34"/>
<path stroke="#d42b1c" stroke-width="2.8" fill="none" d="M625.86 1138.39H632.06M625.86 1186.34H632.06"/>
<path d="M621.36 1166.86L636.56 1166.86L628.96 1153.69Z" fill="#d42b1c"/>
<path stroke="#2f7ab8" stroke-width="3.0" fill="none" d="M700.84 1053.3V1099.4"/>
<path stroke="#2f7ab8" stroke-width="2.8" fill="none" d="M697.74 1053.3H703.94M697.74 1099.4H703.94"/>
<path d="M693.24 1080.89L708.44 1080.89L700.84 1067.72Z" fill="#2f7ab8"/>
<path stroke="#23a722" stroke-width="3.0" fill="none" d="M715.21 1047.3V1094.5"/>
<path stroke="#23a722" stroke-width="2.8" fill="none" d="M712.11 1047.3H718.31M712.11 1094.5H718.31"/>
<path d="M707.61 1075.29L722.81 1075.29L715.21 1062.12Z" fill="#23a722"/>
<path stroke="#f27e05" stroke-width="3.0" fill="none" d="M729.59 1047.3V1084"/>
<path stroke="#f27e05" stroke-width="2.8" fill="none" d="M726.49 1047.3H732.69M726.49 1084H732.69"/>
<path d="M721.99 1075.29L737.19 1075.29L729.59 1062.12Z" fill="#f27e05"/>
<path stroke="#d42b1c" stroke-width="3.0" fill="none" d="M743.96 1033.5V1082.4"/>
<path stroke="#d42b1c" stroke-width="2.8" fill="none" d="M740.86 1033.5H747.06M740.86 1082.4H747.06"/>
<path d="M736.36 1061.79L751.56 1061.79L743.96 1048.62Z" fill="#d42b1c"/>
<path stroke="#2f7ab8" stroke-width="3.0" fill="none" d="M815.84 955.42V1002.08"/>
<path stroke="#2f7ab8" stroke-width="2.8" fill="none" d="M812.74 955.42H818.94M812.74 1002.08H818.94"/>
<path d="M808.24 983.03L823.44 983.03L815.84 969.87Z" fill="#2f7ab8"/>
<path stroke="#23a722" stroke-width="3.0" fill="none" d="M830.21 947.47V994.99"/>
<path stroke="#23a722" stroke-width="2.8" fill="none" d="M827.11 947.47H833.31M827.11 994.99H833.31"/>
<path d="M822.61 975.72L837.81 975.72L830.21 962.56Z" fill="#23a722"/>
<path stroke="#f27e05" stroke-width="3.0" fill="none" d="M844.59 956.93V1005.09"/>
<path stroke="#f27e05" stroke-width="2.8" fill="none" d="M841.49 956.93H847.69M841.49 1005.09H847.69"/>
<path d="M836.99 985.83L852.19 985.83L844.59 972.66Z" fill="#f27e05"/>
<path stroke="#d42b1c" stroke-width="3.0" fill="none" d="M858.96 949.19V998.21"/>
<path stroke="#d42b1c" stroke-width="2.8" fill="none" d="M855.86 949.19H862.06M855.86 998.21H862.06"/>
<path d="M851.36 978.09L866.56 978.09L858.96 964.92Z" fill="#d42b1c"/>
</g>
<g>
<path class="ax" stroke-width="3.0" d="M1003.4 879.3V1213.8M1003.4 1213.8H1371.4"/>
<path class="ax" stroke-width="2.8" d="M990.9 879.3H1003.4M990.9 935.05H1003.4M990.9 990.8H1003.4M990.9 1046.55H1003.4M990.9 1102.3H1003.4M990.9 1158.05H1003.4M990.9 1213.8H1003.4M1072.4 1213.8V1226.3M1187.4 1213.8V1226.3M1302.4 1213.8V1226.3"/>
<text class="tk" transform="translate(986.3 885.6) rotate(0.03) scale(1 1.01)" text-anchor="end">5</text>
<text class="tk" transform="translate(986.3 941.35) rotate(0.03) scale(1 1.01)" text-anchor="end">4</text>
<text class="tk" transform="translate(986.3 997.1) rotate(0.03) scale(1 1.01)" text-anchor="end">3</text>
<text class="tk" transform="translate(986.3 1052.85) rotate(0.03) scale(1 1.01)" text-anchor="end">2</text>
<text class="tk" transform="translate(986.3 1108.6) rotate(0.03) scale(1 1.01)" text-anchor="end">1</text>
<text class="tk" transform="translate(986.3 1164.35) rotate(0.03) scale(1 1.01)" text-anchor="end">0</text>
<text class="tk" transform="translate(986.3 1220.1) rotate(0.03) scale(1 1.01)" text-anchor="end">−1</text>
<text class="tk" transform="translate(1072.4 1243.6) rotate(0.03) scale(1 1.01)" text-anchor="middle">High</text>
<text class="tk" transform="translate(1187.4 1243.6) rotate(0.03) scale(1 1.01)" text-anchor="middle">Medium</text>
<text class="tk" transform="translate(1302.4 1243.6) rotate(0.03) scale(1 1.01)" text-anchor="middle">Low</text>
<text class="at" transform="translate(1187.4 1265.3) rotate(0.03) scale(1 1.01)" text-anchor="middle">Polygenic risk scores of telomere length</text>
<text class="at" transform="translate(942.7 1046.55) rotate(-89.97) scale(1 1.01)" text-anchor="middle">Telomere length (percent change, %)</text>
<rect x="1045.34" y="1152.66" width="11" height="11" fill="#2f7ab8"/>
<path stroke="#23a722" stroke-width="3.0" fill="none" d="M1065.21 1125.48V1173.21"/>
<path stroke="#23a722" stroke-width="2.8" fill="none" d="M1062.11 1125.48H1068.31M1062.11 1173.21H1068.31"/>
<rect x="1059.71" y="1143.85" width="11" height="11" fill="#23a722"/>
<path stroke="#f27e05" stroke-width="3.0" fill="none" d="M1079.59 1125.48V1171.71"/>
<path stroke="#f27e05" stroke-width="2.8" fill="none" d="M1076.49 1125.48H1082.69M1076.49 1171.71H1082.69"/>
<rect x="1074.09" y="1143.85" width="11" height="11" fill="#f27e05"/>
<path stroke="#d42b1c" stroke-width="3.0" fill="none" d="M1093.96 1100.12V1148.92"/>
<path stroke="#d42b1c" stroke-width="2.8" fill="none" d="M1090.86 1100.12H1097.06M1090.86 1148.92H1097.06"/>
<rect x="1088.46" y="1119.12" width="11" height="11" fill="#d42b1c"/>
<path stroke="#2f7ab8" stroke-width="3.0" fill="none" d="M1165.84 1045.93V1092.16"/>
<path stroke="#2f7ab8" stroke-width="2.8" fill="none" d="M1162.74 1045.93H1168.94M1162.74 1092.16H1168.94"/>
<rect x="1160.34" y="1063.87" width="11" height="11" fill="#2f7ab8"/>
<path stroke="#23a722" stroke-width="3.0" fill="none" d="M1180.21 1021.64V1070.44"/>
<path stroke="#23a722" stroke-width="2.8" fill="none" d="M1177.11 1021.64H1183.31M1177.11 1070.44H1183.31"/>
<rect x="1174.71" y="1040.43" width="11" height="11" fill="#23a722"/>
<path stroke="#f27e05" stroke-width="3.0" fill="none" d="M1194.59 1033.04V1080.12"/>
<path stroke="#f27e05" stroke-width="2.8" fill="none" d="M1191.49 1033.04H1197.69M1191.49 1080.12H1197.69"/>
<rect x="1189.09" y="1050.97" width="11" height="11" fill="#f27e05"/>
<path stroke="#d42b1c" stroke-width="3.0" fill="none" d="M1208.96 1008.31V1058.19"/>
<path stroke="#d42b1c" stroke-width="2.8" fill="none" d="M1205.86 1008.31H1212.06M1205.86 1058.19H1212.06"/>
<rect x="1203.46" y="1027.54" width="11" height="11" fill="#d42b1c"/>
<path stroke="#2f7ab8" stroke-width="3.0" fill="none" d="M1280.84 933.49V981.22"/>
<path stroke="#2f7ab8" stroke-width="2.8" fill="none" d="M1277.74 933.49H1283.94M1277.74 981.22H1283.94"/>
<rect x="1275.34" y="952.07" width="11" height="11" fill="#2f7ab8"/>
<path stroke="#23a722" stroke-width="3.0" fill="none" d="M1295.21 934.78V984.01"/>
<path stroke="#23a722" stroke-width="2.8" fill="none" d="M1292.11 934.78H1298.31M1292.11 984.01H1298.31"/>
<rect x="1289.71" y="954.43" width="11" height="11" fill="#23a722"/>
<path stroke="#f27e05" stroke-width="3.0" fill="none" d="M1309.59 941.66V988.75"/>
<path stroke="#f27e05" stroke-width="2.8" fill="none" d="M1306.49 941.66H1312.69M1306.49 988.75H1312.69"/>
<rect x="1304.09" y="959.81" width="11" height="11" fill="#f27e05"/>
<path stroke="#d42b1c" stroke-width="3.0" fill="none" d="M1323.96 926.61V977.35"/>
<path stroke="#d42b1c" stroke-width="2.8" fill="none" d="M1320.86 926.61H1327.06M1320.86 977.35H1327.06"/>
<rect x="1318.46" y="946.26" width="11" height="11" fill="#d42b1c"/>
</g>
<g>
<path class="ax" stroke-width="3.2" d="M1467.7 879.3V1214.5M1467.7 1214.5H1836.66"/>
<path class="ax" stroke-width="2.8" d="M1455.1 879.3H1467.7M1455.1 935.17H1467.7M1455.1 991.03H1467.7M1455.1 1046.9H1467.7M1455.1 1102.77H1467.7M1455.1 1158.63H1467.7M1455.1 1214.5H1467.7M1536.88 1214.5V1226.4M1652.18 1214.5V1226.4M1767.48 1214.5V1226.4"/>
<text class="tk" transform="translate(1450.6 885.6) rotate(0.03) scale(1 1.01)" text-anchor="end">1</text>
<text class="tk" transform="translate(1450.6 941.35) rotate(0.03) scale(1 1.01)" text-anchor="end">0</text>
<text class="tk" transform="translate(1450.6 997.1) rotate(0.03) scale(1 1.01)" text-anchor="end">-1</text>
<text class="tk" transform="translate(1450.6 1052.85) rotate(0.03) scale(1 1.01)" text-anchor="end">-2</text>
<text class="tk" transform="translate(1450.6 1108.6) rotate(0.03) scale(1 1.01)" text-anchor="end">-3</text>
<text class="tk" transform="translate(1450.6 1164.35) rotate(0.03) scale(1 1.01)" text-anchor="end">-4</text>
<text class="tk" transform="translate(1450.6 1220.1) rotate(0.03) scale(1 1.01)" text-anchor="end">-5</text>
<text class="tk" transform="translate(1536.88 1243.6) rotate(0.03) scale(1 1.01)" text-anchor="middle">High</text>
<text class="tk" transform="translate(1652.18 1243.6) rotate(0.03) scale(1 1.01)" text-anchor="middle">Medium</text>
<text class="tk" transform="translate(1767.48 1243.6) rotate(0.03) scale(1 1.01)" text-anchor="middle">Low</text>
<text class="at" transform="translate(1652.18 1265.3) rotate(0.03) scale(1 1.01)" text-anchor="middle">Polygenic risk scores of telomere length</text>
<text class="at" transform="translate(1407 1046.9) rotate(-89.97) scale(1 1.01)" text-anchor="middle">Telomere length (percent change, %)</text>
<path stroke="#2f7ab8" stroke-width="3.5" fill="none" d="M1515.26 1105.54V1150.26"/>
<path stroke="#2f7ab8" stroke-width="2.8" fill="none" d="M1512.16 1105.54H1518.36M1512.16 1150.26H1518.36"/>
<path d="M1509.66 1127.47L1515.26 1121.87L1520.86 1127.47L1515.26 1133.07Z" fill="#2f7ab8"/>
<path stroke="#23a722" stroke-width="3.5" fill="none" d="M1529.67 1083.61V1128.76"/>
<path stroke="#23a722" stroke-width="2.8" fill="none" d="M1526.57 1083.61H1532.77M1526.57 1128.76H1532.77"/>
<path d="M1524.07 1106.4L1529.67 1100.8L1535.27 1106.4L1529.67 1112Z" fill="#23a722"/>
<path stroke="#f27e05" stroke-width="3.5" fill="none" d="M1544.09 1087.26V1133.06"/>
<path stroke="#f27e05" stroke-width="2.8" fill="none" d="M1540.99 1087.26H1547.19M1540.99 1133.06H1547.19"/>
<path d="M1538.49 1110.91L1544.09 1105.32L1549.69 1110.91L1544.09 1116.51Z" fill="#f27e05"/>
<path stroke="#d42b1c" stroke-width="3.5" fill="none" d="M1558.5 1122.1V1167.89"/>
<path stroke="#d42b1c" stroke-width="2.8" fill="none" d="M1555.4 1122.1H1561.6M1555.4 1167.89H1561.6"/>
<path d="M1552.9 1145.1L1558.5 1139.5L1564.1 1145.1L1558.5 1150.7Z" fill="#d42b1c"/>
<path stroke="#2f7ab8" stroke-width="3.5" fill="none" d="M1630.56 997.39V1043.19"/>
<path stroke="#2f7ab8" stroke-width="2.8" fill="none" d="M1627.46 997.39H1633.66M1627.46 1043.19H1633.66"/>
<path d="M1624.96 1020.4L1630.56 1014.8L1636.16 1020.4L1630.56 1026Z" fill="#2f7ab8"/>
<path stroke="#23a722" stroke-width="3.5" fill="none" d="M1644.97 1013.74V1059.1"/>
<path stroke="#23a722" stroke-width="2.8" fill="none" d="M1641.87 1013.74H1648.07M1641.87 1059.1H1648.07"/>
<path d="M1639.37 1036.53L1644.97 1030.93L1650.57 1036.53L1644.97 1042.12Z" fill="#23a722"/>
<path stroke="#f27e05" stroke-width="3.5" fill="none" d="M1659.39 1009V1056.73"/>
<path stroke="#f27e05" stroke-width="2.8" fill="none" d="M1656.29 1009H1662.49M1656.29 1056.73H1662.49"/>
<path d="M1653.79 1032.87L1659.39 1027.27L1664.99 1032.87L1659.39 1038.47Z" fill="#f27e05"/>
<path stroke="#d42b1c" stroke-width="3.5" fill="none" d="M1673.8 1016.32V1062.11"/>
<path stroke="#d42b1c" stroke-width="2.8" fill="none" d="M1670.7 1016.32H1676.9M1670.7 1062.11H1676.9"/>
<path d="M1668.2 1039.11L1673.8 1033.51L1679.4 1039.11L1673.8 1044.7Z" fill="#d42b1c"/>
<path d="M1740.26 935.04L1745.86 929.44L1751.46 935.04L1745.86 940.64Z" fill="#2f7ab8"/>
<path stroke="#23a722" stroke-width="3.5" fill="none" d="M1760.27 910.75V956.33"/>
<path stroke="#23a722" stroke-width="2.8" fill="none" d="M1757.17 910.75H1763.37M1757.17 956.33H1763.37"/>
<path d="M1754.67 933.54L1760.27 927.94L1765.87 933.54L1760.27 939.14Z" fill="#23a722"/>
<path stroke="#f27e05" stroke-width="3.5" fill="none" d="M1774.69 916.34V965.14"/>
<path stroke="#f27e05" stroke-width="2.8" fill="none" d="M1771.59 916.34H1777.79M1771.59 965.14H1777.79"/>
<path d="M1769.09 940.42L1774.69 934.82L1780.29 940.42L1774.69 946.02Z" fill="#f27e05"/>
<path stroke="#d42b1c" stroke-width="3.5" fill="none" d="M1789.1 934.62V982.56"/>
<path stroke="#d42b1c" stroke-width="2.8" fill="none" d="M1786 934.62H1792.2M1786 982.56H1792.2"/>
<path d="M1783.5 958.91L1789.1 953.31L1794.7 958.91L1789.1 964.51Z" fill="#d42b1c"/>
</g>
<g>
<text class="lt" transform="translate(1876.8 589) rotate(0.03) scale(1 1.01)" text-anchor="start">Quartile</text>
<path stroke="#2f7ab8" stroke-width="4.8" d="M1880 621.95H1910"/>
<text class="ll" transform="translate(1925.6 627.95) rotate(0.03) scale(1 1.01)" text-anchor="start">Quartile 1</text>
<path stroke="#23a722" stroke-width="4.8" d="M1880 659.15H1910"/>
<text class="ll" transform="translate(1925.6 665.15) rotate(0.03) scale(1 1.01)" text-anchor="start">Quartile 2</text>
<path stroke="#f27e05" stroke-width="4.8" d="M1880 696.35H1910"/>
<text class="ll" transform="translate(1925.6 702.35) rotate(0.03) scale(1 1.01)" text-anchor="start">Quartile 3</text>
<path stroke="#d42b1c" stroke-width="4.8" d="M1880 733.55H1910"/>
<text class="ll" transform="translate(1925.6 739.55) rotate(0.03) scale(1 1.01)" text-anchor="start">Quartile 4</text>
</g>
</svg></body></html>
